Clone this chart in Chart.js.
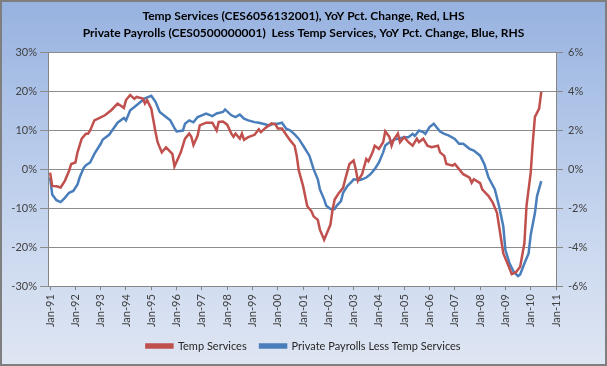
<!DOCTYPE html>
<html>
<head>
<meta charset="utf-8">
<script src="https://cdn.jsdelivr.net/npm/chart.js@4.4.1/dist/chart.umd.min.js"></script>
<style>
    html, body { margin: 0; padding: 0; background: #fff; }
    .graph { width: 607px; height: 366px; }
</style>
</head>
<body>
<div class="graph"><canvas id="temps--chart" width="607" height="366"></canvas></div>
<script>
"use strict";

// months since Jan-91
const tickLabels = ['Jan-91', 'Jan-92', 'Jan-93', 'Jan-94', 'Jan-95', 'Jan-96', 'Jan-97', 'Jan-98', 'Jan-99', 'Jan-00',
    'Jan-01', 'Jan-02', 'Jan-03', 'Jan-04', 'Jan-05', 'Jan-06', 'Jan-07', 'Jan-08', 'Jan-09', 'Jan-10', 'Jan-11'];

// Temp Services, YoY %, LHS
const tempMonths = [0, 1, 3, 5, 7, 9, 10, 12, 13, 15, 17, 18, 19, 21, 23, 26, 29, 32, 35, 36, 38, 40, 41, 44, 45, 46, 48,
    50, 51, 53, 55, 58, 59, 62, 64, 66, 67, 68, 70, 71, 74, 77, 79, 80, 82, 84, 86, 87, 88, 90, 91, 92, 94, 97, 99, 100,
    102, 105, 107, 108, 110, 112, 114, 116, 117, 118, 120, 122, 124, 125, 127, 128, 130, 131, 133, 134, 135, 137, 139,
    140, 142, 144, 145, 146, 148, 150, 151, 153, 154, 156, 158, 159, 161, 162, 163, 165, 166, 168, 170, 172, 174, 175,
    177, 179, 181, 184, 185, 187, 188, 191, 192, 194, 196, 199, 200, 201, 204, 205, 208, 210, 212, 214, 215, 217, 219,
    221, 223, 225, 226, 228, 229, 230, 232, 233];
const tempValues = [-0.9, -4.3, -4.4, -4.7, -3.0, -0.4, 1.3, 1.7, 4.3, 7.8, 9.1, 9.1, 9.9, 12.5, 13.0, 13.8, 15.1, 16.8,
    15.7, 17.7, 19.0, 18.0, 18.5, 18.1, 16.8, 17.7, 15.5, 9.5, 6.9, 4.3, 5.6, 3.9, 0.7, 4.3, 7.8, 9.1, 8.3, 6.2, 8.6, 11.2,
    11.9, 11.9, 9.9, 12.1, 12.2, 11.4, 9.1, 8.3, 9.1, 7.8, 9.1, 7.5, 8.2, 8.8, 10.2, 9.5, 10.5, 11.7, 11.4, 10.4, 10.4,
    8.8, 7.3, 6.0, 3.4, -0.4, -4.3, -9.5, -10.8, -12.1, -13.0, -15.5, -18.1, -16.8, -14.2, -10.4, -7.8, -6.1, -4.8,
    -2.6, 1.3, 2.2, 0.0, -3.0, -1.3, 2.6, 2.0, 4.3, 6.0, 5.2, 6.9, 9.7, 8.2, 6.0, 7.5, 9.1, 6.9, 8.2, 6.9, 6.0, 7.8, 6.9,
    7.8, 6.0, 5.6, 6.0, 4.3, 3.4, 1.3, 0.9, 1.3, 0.0, -1.3, -2.2, -3.5, -2.6, -3.6, -5.2, -6.9, -8.6, -11.2, -18.1,
    -21.6, -24.2, -26.9, -26.4, -25.0, -19.0, -9.5, -0.9, 6.9, 13.4, 15.5, 19.8];

// Private Payrolls less Temp Services, YoY %, RHS
const payrollMonths = [0, 1, 3, 5, 7, 9, 11, 13, 14, 16, 17, 19, 21, 24, 25, 28, 30, 32, 35, 36, 38, 40, 43, 45, 48, 50,
    52, 55, 57, 59, 60, 63, 64, 66, 68, 70, 72, 74, 77, 79, 82, 83, 86, 88, 90, 92, 94, 97, 99, 101, 104, 106, 108, 110,
    112, 114, 116, 118, 120, 123, 125, 127, 128, 130, 131, 133, 135, 136, 138, 139, 141, 143, 144, 147, 148, 150, 152,
    154, 156, 158, 159, 161, 163, 166, 168, 170, 172, 173, 175, 177, 178, 180, 182, 185, 187, 189, 192, 194, 196, 199,
    201, 204, 206, 208, 211, 213, 215, 216, 218, 220, 222, 223, 225, 227, 228, 230, 231, 233];
const payrollValues = [-0.43, -1.30, -1.59, -1.69, -1.47, -1.21, -1.12, -0.78, -0.43, 0.08, 0.2, 0.34, 0.78, 1.30, 1.52,
    1.76, 2.07, 2.38, 2.62, 2.5, 3.02, 3.19, 3.45, 3.63, 3.76, 3.45, 2.93, 2.67, 2.5, 2.1, 1.93, 1.98, 2.33, 2.5, 2.4,
    2.67, 2.76, 2.85, 2.72, 2.85, 2.93, 3.06, 2.76, 2.67, 2.8, 2.59, 2.5, 2.41, 2.38, 2.33, 2.24, 2.33, 2.33, 2.38, 2.07,
    1.98, 1.78, 1.55, 1.21, 0.69, 0.0, -0.52, -1.04, -1.55, -1.87, -2.04, -2.04, -1.87, -1.64, -1.21, -0.87, -0.66,
    -0.52, -0.55, -0.52, -0.43, -0.26, 0.0, 0.34, 0.86, 1.21, 1.38, 1.5, 1.59, 1.64, 1.64, 1.81, 1.7, 1.98, 1.9, 1.81,
    2.16, 2.33, 1.93, 1.81, 1.73, 1.55, 1.30, 1.30, 1.04, 0.95, 0.69, 0.26, -0.43, -1.04, -1.90, -2.94, -4.15, -4.84,
    -5.27, -5.48, -5.4, -4.84, -4.32, -3.37, -2.25, -1.38, -0.61];

const titleLines = ['Temp Services (CES6056132001), YoY Pct. Change, Red, LHS',
    'Private Payrolls (CES0500000001)  Less Temp Services, YoY Pct. Change, Blue, RHS'];

const toPoints = (xs, ys) => xs.map((x, i) => ({ x: x, y: ys[i] }));

// blue gradient background, white plot area, grey frame
const backdrop = {
    id: 'backdrop',
    beforeDraw(chart) {
        const { ctx, width, height, chartArea } = chart;
        const grad = ctx.createLinearGradient(0, 0, 0, height);
        grad.addColorStop(0, '#97b2e0');
        grad.addColorStop(0.6, '#c6d5ee');
        grad.addColorStop(1, '#dfe6f3');
        ctx.save();
        ctx.fillStyle = grad;
        ctx.fillRect(0, 0, width, height);
        ctx.fillStyle = '#ffffff';
        ctx.fillRect(chartArea.left, chartArea.top, chartArea.right - chartArea.left, chartArea.bottom - chartArea.top);
        ctx.restore();
    },
    afterDraw(chart) {
        const { ctx, width, height } = chart;
        ctx.save();
        ctx.strokeStyle = '#7f7f7f';
        ctx.lineWidth = 2;
        ctx.strokeRect(1, 1, width - 2, height - 2);
        ctx.restore();
    }
};

Chart.defaults.font.family = 'Lato';
Chart.defaults.font.size = 11;
Chart.defaults.color = '#404040';

const ctx = document.getElementById('temps--chart').getContext('2d');

new Chart(ctx, {
    type: 'line',
    data: {
        datasets: [{
            label: 'Temp Services',
            data: toPoints(tempMonths, tempValues),
            borderColor: '#c0504d',
            backgroundColor: '#c0504d',
            borderWidth: 2.5,
            pointRadius: 0,
            yAxisID: 'y'
        }, {
            label: 'Private Payrolls Less Temp Services',
            data: toPoints(payrollMonths, payrollValues),
            borderColor: '#4a7ebb',
            backgroundColor: '#4a7ebb',
            borderWidth: 2.5,
            pointRadius: 0,
            yAxisID: 'y2'
        }]
    },
    options: {
        responsive: false,
        animation: false,
        layout: { padding: { bottom: 4.4 } },
        elements: { line: { tension: 0 } },
        scales: {
            x: {
                type: 'linear',
                min: -1,
                max: 240,
                afterBuildTicks: (scale) => {
                    scale.ticks = tickLabels.map((_, i) => ({ value: i * 12 }));
                },
                afterFit: (scale) => { scale.height = 41; },
                ticks: {
                    minRotation: 90,
                    maxRotation: 90,
                    padding: 4,
                    callback: (value) => tickLabels[value / 12]
                },
                grid: { drawOnChartArea: false, tickLength: 4, color: '#868686' },
                border: { color: '#868686' }
            },
            y: {
                position: 'left',
                min: -30,
                max: 30,
                afterFit: (scale) => { scale.width = 48; },
                ticks: { stepSize: 10, padding: 3, callback: (v) => v + '%' },
                grid: { color: '#8c8c8c', tickLength: 8 },
                border: { color: '#868686' }
            },
            y2: {
                position: 'right',
                min: -6,
                max: 6,
                afterFit: (scale) => { scale.width = 51; },
                ticks: { stepSize: 2, padding: 5, callback: (v) => v + '%' },
                grid: { drawOnChartArea: false, color: '#868686', tickLength: 7 },
                border: { color: '#868686' }
            }
        },
        plugins: {
            title: {
                display: true,
                text: titleLines,
                color: '#000000',
                font: { size: 12, weight: 'bold', lineHeight: 1.42 },
                padding: { top: 8, bottom: 10 }
            },
            legend: {
                position: 'bottom',
                labels: {
                    boxWidth: 26,
                    boxHeight: 3,
                    padding: 13.4,
                    color: '#262626'
                }
            },
            tooltip: { enabled: false }
        }
    },
    plugins: [backdrop]
});
</script>
</body>
</html>
